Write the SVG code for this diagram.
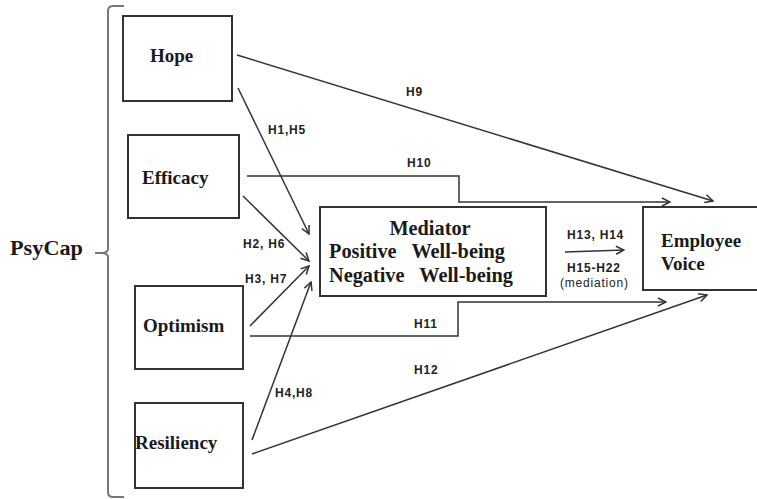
<svg xmlns="http://www.w3.org/2000/svg" width="757" height="499" viewBox="0 0 757 499">
<style>
.box{fill:#fff;stroke:#333;stroke-width:2}
.nt{font-family:"Liberation Serif","Times New Roman",serif;font-weight:bold;font-size:19px;fill:#1a1a1a}
.mt{font-size:20.3px}
.lb{font-family:"Liberation Sans",Arial,sans-serif;font-weight:bold;font-size:12px;letter-spacing:0.8px;fill:#222}
.cn{fill:none;stroke:#333;stroke-width:1.5}
</style>
<defs>
<marker id="ah" markerUnits="userSpaceOnUse" markerWidth="10" markerHeight="10" refX="9" refY="5" orient="auto">
<path d="M1,1 L9,5 L1,9" fill="none" stroke="#333" stroke-width="1.5"/>
</marker>
</defs>
<rect width="757" height="499" fill="#fff"/>
<g id="psycap">
<text x="10" y="255" font-family="Liberation Serif,Times New Roman,serif" font-weight="bold" font-size="21" fill="#1a1a1a" textLength="73" lengthAdjust="spacingAndGlyphs">PsyCap</text>
<path d="M124,6 L113,6 Q108,6 108,11 V249 Q108,252 103,253 L95,253 M103,253 Q108,254 108,257 V492 Q108,497 113,497 L124,497" fill="none" stroke="#777" stroke-width="2"/>
</g>
<g id="hope"><rect class="box" x="123" y="16" width="109" height="85"/><text class="nt" x="150" y="62">Hope</text></g>
<g id="efficacy"><rect class="box" x="128" y="135" width="111" height="83"/><text class="nt" x="142" y="184">Efficacy</text></g>
<g id="optimism"><rect class="box" x="135" y="286" width="108" height="83"/><text class="nt" x="143" y="332">Optimism</text></g>
<g id="resiliency"><rect class="box" x="135" y="403" width="108" height="85"/><text class="nt" x="135" y="449">Resiliency</text></g>
<g id="mediator"><rect class="box" x="320" y="207" width="226" height="89"/>
<text class="nt mt" x="430" y="235" text-anchor="middle">Mediator</text>
<text class="nt mt" x="329" y="258" xml:space="preserve">Positive   Well-being</text>
<text class="nt mt" x="329" y="282" xml:space="preserve">Negative   Well-being</text></g>
<g id="voice"><rect class="box" x="643" y="207" width="120" height="83"/>
<text class="nt" x="661" y="247">Employee</text><text class="nt" x="661" y="270">Voice</text></g>
<g id="connectors">
<path class="cn" marker-end="url(#ah)" d="M237,55 L713,201"/>
<path class="cn" marker-end="url(#ah)" d="M238,88 L309,234"/>
<path class="cn" marker-end="url(#ah)" d="M247,176 H459 V202 H670"/>
<path class="cn" marker-end="url(#ah)" d="M243,196 L309,261"/>
<path class="cn" marker-end="url(#ah)" d="M250,326 L309,266"/>
<path class="cn" marker-end="url(#ah)" d="M252,440 L311,282"/>
<path class="cn" marker-end="url(#ah)" d="M250,336 H458 V302 H666"/>
<path class="cn" marker-end="url(#ah)" d="M252,454 L707,295"/>
<path class="cn" marker-end="url(#ah)" d="M565,252 L624,250"/>
</g>
<g id="labels">
<text class="lb" x="406" y="96">H9</text>
<text class="lb" x="268" y="134">H1,H5</text>
<text class="lb" x="407" y="167">H10</text>
<text class="lb" x="243" y="248">H2, H6</text>
<text class="lb" x="245" y="283">H3, H7</text>
<text class="lb" x="275" y="397">H4,H8</text>
<text class="lb" x="414" y="328">H11</text>
<text class="lb" x="414" y="374">H12</text>
<text class="lb" x="567" y="239">H13, H14</text>
<text class="lb" x="567" y="272">H15-H22</text>
<text class="lb" x="560" y="287" style="font-weight:normal">(mediation)</text>
</g>
</svg>
